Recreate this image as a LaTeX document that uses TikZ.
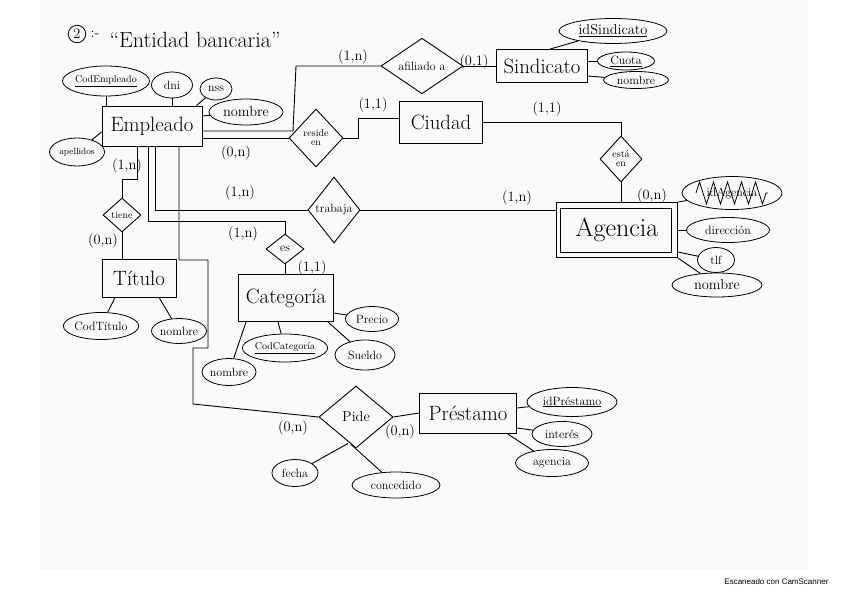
\documentclass[tikz,border=0pt]{standalone}
\usepackage{fontspec}
\newfontfamily\scanfont{Liberation Sans}
\usepackage{xcolor}
\usepackage{tikz}
\usetikzlibrary{positioning, shapes.geometric, decorations.pathmorphing}
\definecolor{papel}{RGB}{250,249,251}
\tikzset{
    entidad/.style={draw, rectangle, line width=0.9pt, inner sep=0pt, font=\huge},
    atributo/.style={draw, ellipse, line width=0.8pt, inner sep=0pt, font=\large},
    relacion/.style={draw, diamond, line width=0.9pt, inner sep=0pt, font=\normalsize, align=center},
    card/.style={font=\Large, inner sep=0pt},
    enlace/.style={line width=0.9pt}
}

\begin{document}
\begin{tikzpicture}[x=1pt, y=-1pt]
\useasboundingbox (0,0) rectangle (848,599);
\fill[papel] (40,0) rectangle (808,570);

% titulo
\node[circle, draw, line width=0.8pt, inner sep=2pt, font=\Large] (num) at (77,34) {2};
\node[right=1pt of num, font=\Large] (guion) {:-};
\node[anchor=west, font=\fontsize{22}{26}\selectfont] (hoja) at (106,40) {``Entidad bancaria''};

% entidades
\node[entidad, minimum width=100, minimum height=40] (empleado) at (152,126) {Empleado};
\node[entidad, minimum width=91, minimum height=33] (sindicato) at (542,66) {Sindicato};
\node[entidad, minimum width=83, minimum height=42] (ciudad) at (441,122) {Ciudad};
\node[entidad, minimum width=121, minimum height=55, font=\fontsize{26}{30}\selectfont] (agencia) at (617,230) {Agencia};
\node[entidad, minimum width=74, minimum height=38] (titulo) at (139,278) {Título};
\node[entidad, minimum width=95, minimum height=47] (categoria) at (286,298) {Categoría};
\node[entidad, minimum width=97, minimum height=40] (prestamo) at (468,413) {Préstamo};

% relaciones
\node[relacion, minimum width=82, minimum height=46, font=\large] (afiliado) at (422,66) {afiliado a};
\node[relacion, minimum width=54, minimum height=58] (resideen) at (316,138) {reside\\[-3pt]en};
\node[relacion, minimum width=42, minimum height=46] (estaen) at (621,159) {está\\[-3pt]en};
\node[relacion, minimum width=52, minimum height=66, font=\large] (trabaja) at (334,210) {trabaja};
\node[relacion, minimum width=38, minimum height=30, font=\large] (es) at (285,249) {es};
\node[relacion, minimum width=38, minimum height=34] (tiene) at (122,215) {tiene};
\node[relacion, minimum width=74, minimum height=62, font=\Large] (pide) at (356,417) {Pide};

% atributos
\node[atributo, minimum width=82, minimum height=30, font=\normalsize] (codempleado) at (106,81) {\underline{CodEmpleado}};
\node[atributo, minimum width=41, minimum height=26] (dni) at (172,85) {dni};
\node[atributo, minimum width=32, minimum height=22] (nss) at (216,89) {nss};
\node[atributo, minimum width=74, minimum height=26, font=\Large] (nombre) at (246,112) {nombre};
\node[atributo, minimum width=55, minimum height=28, font=\small] (apellidos) at (77,152) {apellidos};

\node[atributo, minimum width=108, minimum height=25, font=\Large] (idsindicato) at (613,31) {\underline{idSindicato}};
\node[atributo, minimum width=57, minimum height=18] (cuota) at (626,61) {\underline{Cuota}};
\node[atributo, minimum width=65, minimum height=17] (nombresind) at (636,80) {nombre};

\node[atributo, minimum width=100, minimum height=33] (idagencia) at (732,193) {idAgencia};
\node[atributo, minimum width=83, minimum height=25] (direccion) at (728,230) {dirección};
\node[atributo, minimum width=37, minimum height=25] (tlf) at (716,260) {tlf};
\node[atributo, minimum width=90, minimum height=24, font=\Large] (nombreag) at (717,285) {nombre};

\node[atributo, minimum width=72, minimum height=27] (codtitulo) at (101,326) {CodTítulo};
\node[atributo, minimum width=55, minimum height=25] (nombretit) at (179,331) {nombre};

\node[atributo, minimum width=53, minimum height=25] (precio) at (372,319) {Precio};
\node[atributo, minimum width=60, minimum height=30] (sueldo) at (365,355) {Sueldo};
\node[atributo, minimum width=80, minimum height=28, font=\normalsize] (codcategoria) at (285,348) {\underline{CodCategoría}};
\node[atributo, minimum width=52, minimum height=27] (nombrecat) at (229,372) {nombre};

\node[atributo, minimum width=90, minimum height=29] (idprestamo) at (572,402) {\underline{idPréstamo}};
\node[atributo, minimum width=60, minimum height=25] (interes) at (562,434) {interés};
\node[atributo, minimum width=73, minimum height=27] (agenciaatt) at (552,463) {agencia};

\node[atributo, minimum width=46, minimum height=27] (fecha) at (295,473) {fecha};
\node[atributo, minimum width=88, minimum height=26] (concedido) at (396,485) {concedido};

% entidad debil y tachado
\draw[line width=0.8pt] ([xshift=4pt, yshift=-6pt]agencia.north west) rectangle ([xshift=-7pt, yshift=6pt]agencia.south east);
\draw[line width=0.8pt, decorate, decoration={zigzag, segment length=14pt, amplitude=11pt}]
    ([xshift=-36pt]idagencia.center) -- ([xshift=36pt]idagencia.center);

% codos
\coordinate (codo-a1) at (293,131);
\coordinate (codo-a2) at (296,66);
\coordinate (codo-r1) at (358,138);
\coordinate (codo-r2) at (358,118);
\coordinate (codo-es) at (285,221);
\coordinate (codo-t) at (137,179);
\coordinate (codo-p1) at (179,260);
\coordinate (codo-p2) at (208,260);
\coordinate (codo-p3) at (208,348);
\coordinate (codo-p4) at (193,348);
\coordinate (codo-p5) at (193,404);

% enlaces de relaciones
\draw[enlace] (empleado.east |- codo-a1) -- (codo-a1) -- (codo-a2) -- (afiliado.west);
\draw[enlace] (afiliado.east) -- (sindicato.west);
\draw[enlace] (empleado.east |- resideen.west) -- (resideen.west);
\draw[enlace] (resideen.east) -- (codo-r1) -- (codo-r2) -- (codo-r2 -| ciudad.west);
\draw[enlace] (ciudad.east) -| (estaen.north);
\draw[enlace] (estaen.south) -- (estaen.south |- agencia.north);
\draw[enlace] ([xshift=3pt]empleado.south) |- (trabaja.west);
\draw[enlace] (trabaja.east) -- (trabaja.east -| agencia.west);
\draw[enlace] ([xshift=-4pt]empleado.south) |- (codo-es) -- (es.north);
\draw[enlace] (es.south) -- (es.south |- categoria.north);
\draw[enlace] ([xshift=-15pt]empleado.south) -- (codo-t) -| (tiene.north);
\draw[enlace] (tiene.south) -- (tiene.south |- titulo.north);
\draw[enlace] ([xshift=27pt]empleado.south) -- (codo-p1) -- (codo-p2) -- (codo-p3) -- (codo-p4) -- (codo-p5) -- (pide.west);
\draw[enlace] (pide.east) -- (prestamo.west);

% enlaces de atributos
\draw[enlace] (codempleado) -- (codempleado |- empleado.north);
\draw[enlace] (dni) -- (dni |- empleado.north);
\draw[enlace] (nss) -- ([xshift=-6pt]empleado.north east);
\draw[enlace] (nombre) -- ([yshift=10pt]empleado.east);
\draw[enlace] (apellidos) -- ([yshift=-6pt]empleado.west);
\draw[enlace] (idsindicato) -- ([xshift=8pt]sindicato.north);
\draw[enlace] (cuota) -- (sindicato.east |- cuota);
\draw[enlace] (nombresind) -- ([yshift=-10pt]sindicato.east);
\draw[enlace] (idagencia) -- (agencia.north east);
\draw[enlace] (direccion) -- (agencia.east);
\draw[enlace] (tlf) -- ([yshift=-22pt]agencia.east);
\draw[enlace] (nombreag) -- (agencia.south east);
\draw[enlace] (codtitulo) -- ([xshift=-24pt]titulo.south);
\draw[enlace] (nombretit) -- ([xshift=20pt]titulo.south);
\draw[enlace] (precio) -- ([yshift=-15pt]categoria.east);
\draw[enlace] (sueldo) -- ([xshift=-6pt]categoria.south east);
\draw[enlace] (codcategoria) -- ([xshift=-8pt]categoria.south);
\draw[enlace] (nombrecat) -- ([xshift=8pt]categoria.south west);
\draw[enlace] (idprestamo) -- ([yshift=5pt]prestamo.east);
\draw[enlace] (interes) -- ([yshift=-15pt]prestamo.east);
\draw[enlace] (agenciaatt) -- ([xshift=-10pt]prestamo.south east);
\draw[enlace] (fecha) -- ([xshift=-8pt, yshift=5pt]pide.south);
\draw[enlace] (concedido) -- ([xshift=-5pt, yshift=4pt]pide.south);

% cardinalidades
\node[card] (c-emp-afil) at (353,57) {(1,n)};
\node[card] (c-afil-sind) at (474,62) {(0,1)};
\node[card] (c-emp-res) at (236,153) {(0,n)};
\node[card] (c-res-ciu) at (373,105) {(1,1)};
\node[card] (c-ciu-est) at (547,109) {(1,1)};
\node[card] (c-est-age) at (652,196) {(0,n)};
\node[card] (c-emp-trab) at (240,193) {(1,n)};
\node[card] (c-trab-age) at (517,198) {(1,n)};
\node[card] (c-emp-es) at (243,234) {(1,n)};
\node[card] (c-es-cat) at (312,268) {(1,1)};
\node[card] (c-emp-tie) at (127,166) {(1,n)};
\node[card] (c-tie-tit) at (103,241) {(0,n)};
\node[card] (c-emp-pide) at (293,428) {(0,n)};
\node[card] (c-pide-pres) at (400,432) {(0,n)};

\node[anchor=east, font=\fontsize{8}{9}\selectfont\scanfont] (marca) at (832,582) {Escaneado con CamScanner};
\end{tikzpicture}
\end{document}
